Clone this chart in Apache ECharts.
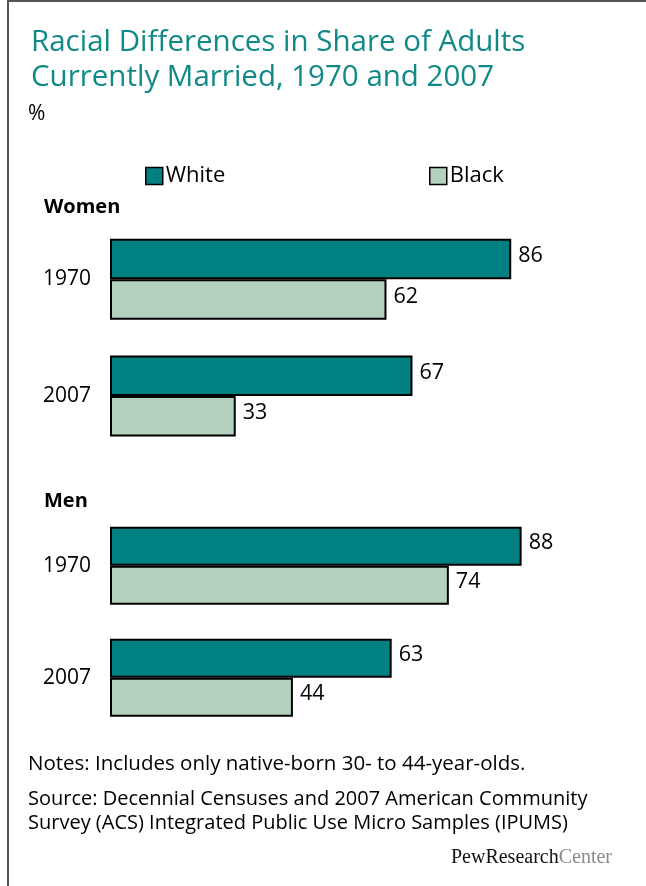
<!DOCTYPE html>
<html>
<head>
<meta charset="utf-8">
<script src="https://cdn.jsdelivr.net/npm/echarts@6/dist/echarts.min.js"></script>
<style>
html,body{margin:0;padding:0;background:#fff;}
#chart{width:646px;height:886px;}
</style>
</head>
<body>
<div id="chart"></div>
<script>
// ---- data ----
const years = ['1970', '2007'];
const seriesNames = ['White', 'Black'];
const womenWhite = [86, 67];
const womenBlack = [62, 33];
const menWhite = [88, 63];
const menBlack = [74, 44];
const groupLabels = ['Women', 'Men'];
const titleText = 'Racial Differences in Share of Adults\nCurrently Married, 1970 and 2007';
const unitText = '%';
const noteText = 'Notes: Includes only native-born 30- to 44-year-olds.';
const sourceLines = ['Source: Decennial Censuses and 2007 American Community', 'Survey (ACS) Integrated Public Use Micro Samples (IPUMS)'];

// ---- style ----
const FONT = '"Open Sans", "DejaVu Sans", sans-serif';
const TEAL = '#008080';
const LIGHT = '#B3D1BE';
const TITLE_COLOR = '#118A87';

const chart = echarts.init(document.getElementById('chart'), null, {renderer: 'canvas'});

function xAxisCfg(gi) {
  return {gridIndex: gi, type: 'value', min: 9, max: 100, show: false};
}
function yAxisCfg(gi) {
  return {
    gridIndex: gi, type: 'category', data: years, inverse: true,
    axisLine: {show: false}, axisTick: {show: false}, splitLine: {show: false},
    axisLabel: {color: '#000', fontSize: 21, fontFamily: FONT, margin: 20, padding: [0, 0, 6, 0]}
  };
}
function barSeries(name, data, color, gi, bw) {
  return {
    name: name, type: 'bar', xAxisIndex: gi, yAxisIndex: gi, data: data,
    barWidth: bw, barGap: '0%',
    itemStyle: {color: color, borderColor: '#000', borderWidth: 2},
    label: {show: true, position: 'right', distance: 7, offset: [0, -3], color: '#000', fontSize: 21.5, fontFamily: FONT},
    emphasis: {disabled: true},
    animation: false
  };
}

const option = {
  backgroundColor: '#fff',
  animation: false,
  title: {
    text: titleText, left: 26, top: 20,
    textStyle: {color: TITLE_COLOR, fontSize: 29.5, fontWeight: 'normal', fontFamily: FONT, lineHeight: 35}
  },
  legend: [
    {data: [seriesNames[0]], left: 140, top: 160, icon: 'rect', itemWidth: 17, itemHeight: 17, itemGap: 6,
     itemStyle: {borderColor: '#000', borderWidth: 1.5},
     textStyle: {fontSize: 22, color: '#000', fontFamily: FONT, padding: [0, 0, 0, -2]}, selectedMode: false},
    {data: [seriesNames[1]], left: 424, top: 160, icon: 'rect', itemWidth: 17, itemHeight: 17, itemGap: 6,
     itemStyle: {borderColor: '#000', borderWidth: 1.5},
     textStyle: {fontSize: 22, color: '#000', fontFamily: FONT, padding: [0, 0, 0, -2]}, selectedMode: false}
  ],
  grid: [
    {left: 111, top: 221, width: 473, height: 233.4, containLabel: false},
    {left: 111, top: 509.7, width: 473, height: 224.2, containLabel: false}
  ],
  xAxis: [xAxisCfg(0), xAxisCfg(1)],
  yAxis: [yAxisCfg(0), yAxisCfg(1)],
  series: [
    barSeries(seriesNames[0], womenWhite, TEAL, 0, 40.5),
    barSeries(seriesNames[1], womenBlack, LIGHT, 0, 40.5),
    barSeries(seriesNames[0], menWhite, TEAL, 1, 39),
    barSeries(seriesNames[1], menBlack, LIGHT, 1, 39)
  ],
  graphic: [
    {type: 'rect', shape: {x: 7, y: 0, width: 639, height: 2}, style: {fill: '#555'}, silent: true},
    {type: 'rect', shape: {x: 7, y: 0, width: 2, height: 886}, style: {fill: '#555'}, silent: true},
    {type: 'text', style: {x: 28, y: 114, text: unitText, font: '21px ' + FONT, fill: '#000', verticalAlign: 'middle'}},
    {type: 'text', style: {x: 44, y: 207, text: groupLabels[0], font: 'bold 20px ' + FONT, fill: '#000', verticalAlign: 'middle'}},
    {type: 'text', style: {x: 44, y: 501, text: groupLabels[1], font: 'bold 20px ' + FONT, fill: '#000', verticalAlign: 'middle'}},
    {type: 'text', style: {x: 28, y: 764, text: noteText, font: '20.5px ' + FONT, fill: '#000', verticalAlign: 'middle'}},
    {type: 'text', style: {x: 28, y: 799, text: sourceLines[0], font: '20px ' + FONT, fill: '#000', verticalAlign: 'middle'}},
    {type: 'text', style: {x: 28, y: 823, text: sourceLines[1], font: '20px ' + FONT, fill: '#000', verticalAlign: 'middle'}},
    {type: 'text', style: {x: 612, y: 858, text: '{a|PewResearch}{b|Center}', align: 'right', verticalAlign: 'middle',
      rich: {a: {fontFamily: '"Liberation Serif", "DejaVu Serif", serif', fontSize: 20, fill: '#111', color: '#111'},
             b: {fontFamily: '"Liberation Serif", "DejaVu Serif", serif', fontSize: 20, fill: '#8a8a8a', color: '#8a8a8a'}}}}
  ]
};
chart.setOption(option);
</script>
</body>
</html>
